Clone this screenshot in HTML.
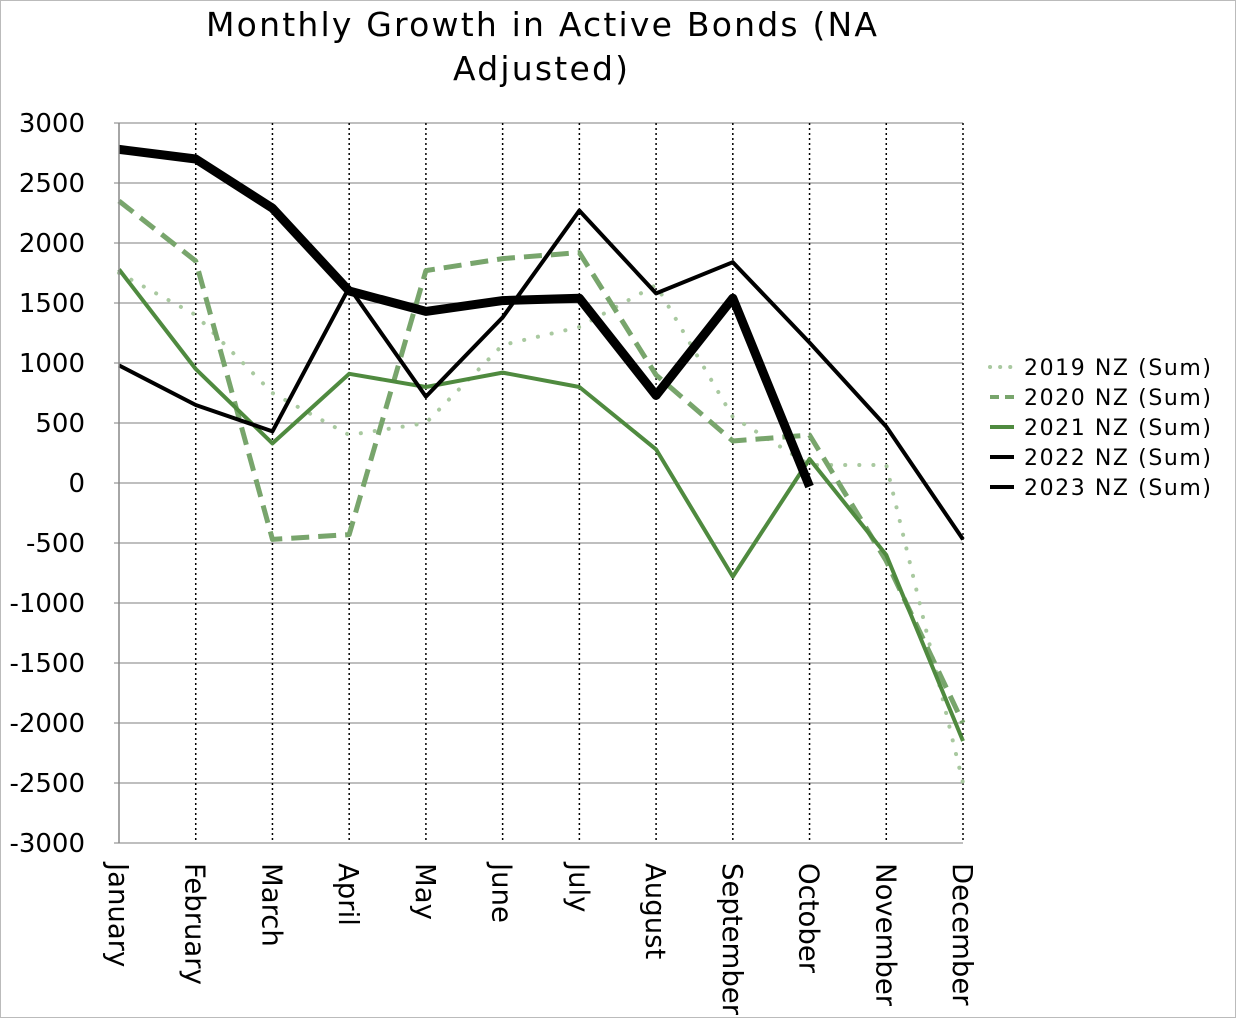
<!DOCTYPE html>
<html><head><meta charset="utf-8"><style>
body{margin:0;background:#fff}
svg{display:block;font-family:"DejaVu Sans","Liberation Sans",sans-serif}
</style></head><body>
<svg id="chart" width="1236" height="1018" viewBox="0 0 1236 1018">
<rect x="0.5" y="0.5" width="1235" height="1017" fill="#fff" stroke="#bbb"/>
<text x="206" y="36" font-size="33" textLength="671" lengthAdjust="spacing">Monthly Growth in Active Bonds  (NA</text>
<text x="453" y="80" font-size="33" textLength="175" lengthAdjust="spacing">Adjusted)</text>
<g id="grid"></g><g id="series"></g><g id="axes"></g><g id="legend"></g>
</svg>
<script>
const months=["January","February","March","April","May","June","July","August","September","October","November","December"];
const yTicks=[3000,2500,2000,1500,1000,500,0,-500,-1000,-1500,-2000,-2500,-3000];
const seriesNames=["2019 NZ (Sum)","2020 NZ (Sum)","2021 NZ (Sum)","2022 NZ (Sum)","2023 NZ (Sum)"];
const s2019=[1750,1400,750,400,500,1150,1300,1650,550,150,150,-2500];
const s2020=[2350,1850,-470,-430,1770,1870,1920,900,350,400,-650,-2000];
const s2021=[1780,950,330,910,800,920,800,280,-780,200,-600,-2150];
const s2022=[980,650,430,1630,720,1380,2270,1580,1840,1170,470,-470];
const s2023=[2780,2700,2290,1600,1430,1520,1540,730,1540,-30];
const NS="http://www.w3.org/2000/svg";
const X0=119,X1=963,Y0=123,Y1=843;
const x=i=>X0+i*(X1-X0)/(months.length-1);
const y=v=>Y0+(3000-v)*(Y1-Y0)/6000;
function mk(tag,attrs,parent){const e=document.createElementNS(NS,tag);for(const k in attrs)e.setAttribute(k,attrs[k]);parent.appendChild(e);return e;}
const grid=document.getElementById('grid'),axes=document.getElementById('axes'),ser=document.getElementById('series'),leg=document.getElementById('legend');
yTicks.forEach(t=>{
 const l=mk('line',{x1:X0-5,x2:X1,y1:y(t),y2:y(t),stroke:'#999','stroke-width':1.2},grid);
 
 
 const tx=mk('text',{x:85,y:y(t)+9,'font-size':26,'text-anchor':'end'},axes);tx.textContent=String(t);
 
 
});
months.forEach((m,i)=>{
 if(i>0){const l=mk('line',{x1:x(i),x2:x(i),y1:Y0,y2:Y1,stroke:'#000','stroke-width':1.5,'stroke-dasharray':'2,3'},grid);
 
 }
 const tx=mk('text',{transform:`translate(${x(i)-10},${Y1+20}) rotate(90)`,'font-size':27.5},axes);tx.textContent=m;
 
 
});
const ax=mk('line',{x1:X0,x2:X0,y1:Y0,y2:Y1,stroke:'#888','stroke-width':1.5},axes);


const styles=[
 {d:s2019,c:'#a9c9a0',w:4,da:'0.1,14',cap:'round'},
 {d:s2020,c:'#78a56c',w:5,da:'18,9',cap:'butt'},
 {d:s2021,c:'#4f8a3f',w:4,da:'',cap:'butt'},
 {d:s2022,c:'#000',w:4,da:'',cap:'butt'},
 {d:s2023,c:'#000',w:9,da:'',cap:'butt'}];
styles.forEach((s,k)=>{
 const pts=s.d.map((v,i)=>x(i)+','+y(v)).join(' ');
 const p=mk('polyline',{points:pts,fill:'none',stroke:s.c,'stroke-width':s.w,'stroke-dasharray':s.da,'stroke-linecap':s.cap,'stroke-linejoin':'round'},ser);
 
 
 const ly=367+k*30;
 const g=mk('g',{},leg);
 
 
 mk('line',{x1:990,x2:1014,y1:ly,y2:ly,stroke:s.c,'stroke-width':Math.min(s.w,4),'stroke-dasharray':s.da?(k===0?'0.1,10':'9,6'):'','stroke-linecap':s.cap},g);
 const t=mk('text',{x:1024,y:ly+8,'font-size':22,textLength:187,lengthAdjust:'spacing'},g);t.textContent=seriesNames[k];
});
</script>
</body></html>
